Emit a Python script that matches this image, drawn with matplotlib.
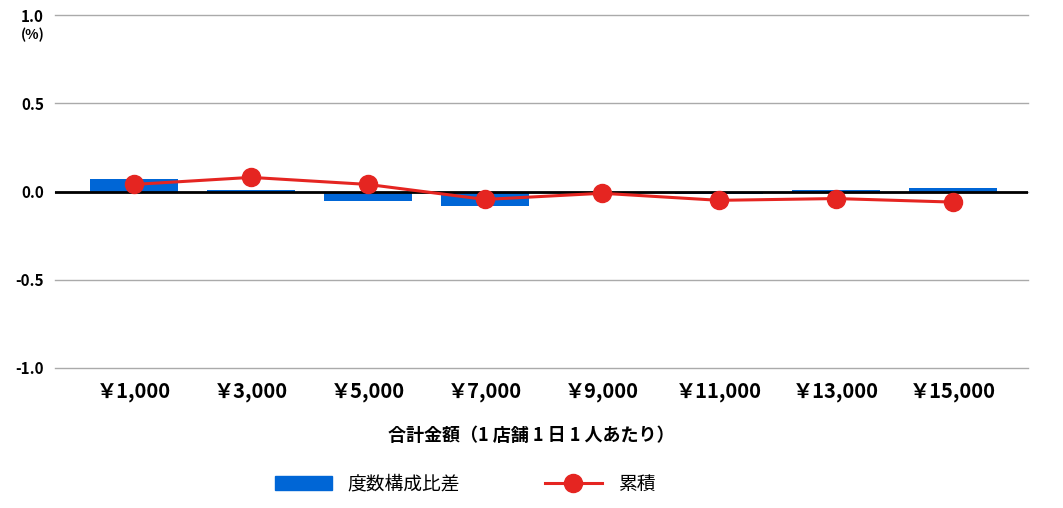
import matplotlib
matplotlib.use('Agg')
import matplotlib.pyplot as plt
from matplotlib.patches import Patch
from matplotlib.lines import Line2D

plt.rcParams['font.family'] = ['Noto Sans CJK JP', 'DejaVu Sans']

# data
categories = ['￥1,000', '￥3,000', '￥5,000', '￥7,000', '￥9,000', '￥11,000', '￥13,000', '￥15,000']
diff_ratio = [0.068, 0.01, -0.055, -0.08, -0.01, -0.015, 0.01, 0.02]
cumulative = [0.04, 0.08, 0.04, -0.045, -0.01, -0.05, -0.04, -0.06]
yticks = [-1.0, -0.5, 0.0, 0.5, 1.0]

blue = '#0066d6'
red = '#e52521'

fig = plt.figure(figsize=(10.63, 5.08), dpi=100)
ax = fig.add_axes([55 / 1063, 1 - 368 / 508, (1028 - 55) / 1063, (368 - 15) / 508])

x = list(range(len(categories)))
ax.bar(x, diff_ratio, width=0.75, color=blue, zorder=2)
ax.plot(x, cumulative, color=red, lw=2.2, marker='o', ms=13, zorder=4)
ax.axhline(0, color='black', lw=2, zorder=3)

ax.set_xlim(-0.675, 7.64)
ax.set_ylim(-1.0, 1.0)
ax.set_yticks(yticks)
ax.set_yticklabels(['%.1f' % v for v in yticks], fontsize=11, fontweight='bold')
ax.set_xticks(x)
ax.set_xticklabels(categories, fontsize=14.5, fontweight='bold')
ax.tick_params(axis='both', length=0)
ax.tick_params(axis='y', pad=8)
ax.tick_params(axis='x', pad=9)
ax.grid(axis='y', color='#aaaaaa', lw=1, zorder=0)
for line in ax.get_ygridlines():
    line.set_clip_on(False)
for s in ax.spines.values():
    s.set_visible(False)

fig.text(33 / 1063, 1 - 35 / 508, '(%)', fontsize=10, fontweight='bold', ha='center', va='center')
fig.text(531 / 1063, 1 - 435 / 508, '合計金額（1 店舗 1 日 1 人あたり）', fontsize=13,
         fontweight='bold', ha='center', va='center')

handles = [Patch(color=blue, label='度数構成比差'),
           Line2D([], [], color=red, lw=2.2, marker='o', ms=13, label='累積')]
fig.legend(handles=handles, loc='center left', bbox_to_anchor=(267 / 1063, 1 - 484 / 508), ncol=2,
           frameon=False, fontsize=13.5, handlelength=3.05, handleheight=0.85,
           columnspacing=4.5, handletextpad=0.85, borderaxespad=0)

fig.savefig('out.png', dpi=100)
